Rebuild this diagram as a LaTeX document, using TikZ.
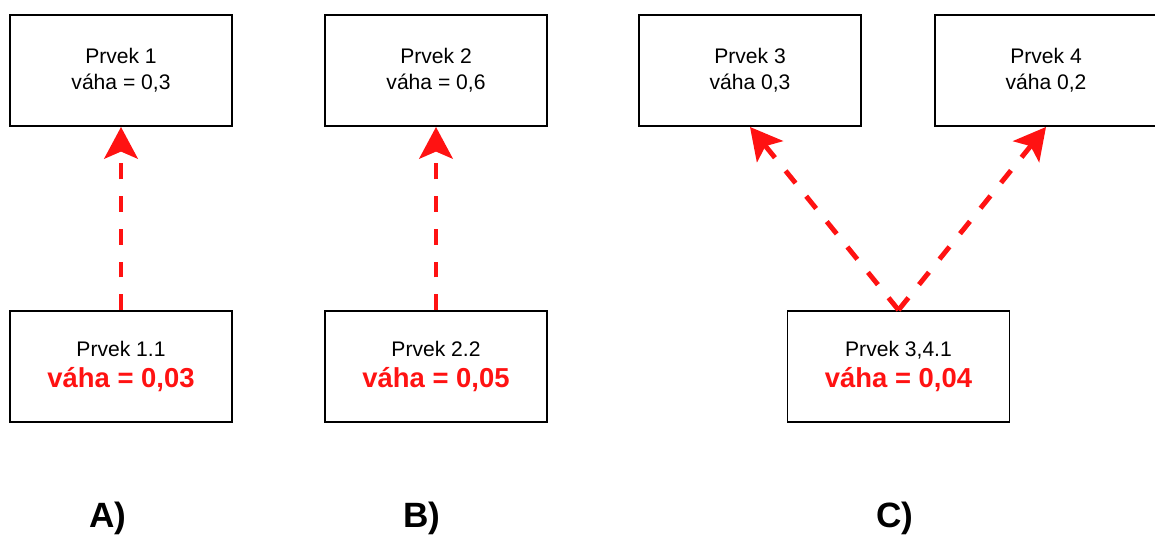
\documentclass[tikz,border=0pt]{standalone}
\usepackage{fontspec}
\setmainfont{Liberation Sans}
\usetikzlibrary{arrows.meta, positioning}
\definecolor{hotred}{RGB}{255,18,18}
\newcommand{\wred}[1]{{\fontsize{15.6}{17}\selectfont\bfseries\color{hotred}#1}}

\begin{document}
\begin{tikzpicture}[
    box/.style={rectangle, draw=black, line width=1.1pt, fill=white,
                minimum height=2.22cm, minimum width=4.44cm, align=center,
                font=\fontsize{12}{14.6}\selectfont},
    tag/.style={font=\fontsize{20}{22}\selectfont\bfseries},
    arrow/.style={-{Stealth[length=18pt, width=19pt, inset=4pt]}, line width=2.8pt,
                  hotred, dash pattern=on 9pt off 9.6pt}
]
\useasboundingbox (0,0) rectangle (23.1,-10.74);

% upper row
\node[box] (p1) at (2.42,-1.41) {Prvek 1\\váha = 0,3};
\node[box] (p2) at (8.72,-1.41) {Prvek 2\\váha = 0,6};
\node[box] (p3) at (15.0,-1.41) {Prvek 3\\váha 0,3};
\node[box] (p4) at (20.92,-1.41) {Prvek 4\\váha 0,2};

% lower row
\node[box] (p11) at (2.42,-7.33) {Prvek 1.1\\[3pt]\wred{váha = 0,03}};
\node[box] (p22) at (8.72,-7.33) {Prvek 2.2\\[3pt]\wred{váha = 0,05}};
\node[box] (p341) at (17.97,-7.33) {Prvek 3,4.1\\[3pt]\wred{váha = 0,04}};

\draw[arrow] (p11) -- (p1);
\draw[arrow] (p22) -- (p2);
\draw[arrow] (p341.north) -- (p3.south);
\draw[arrow] (p341.north) -- (p4.south);

% case labels
\node[tag] (la) at (2.16,-10.36) {A)};
\node[tag] (lb) at (8.44,-10.36) {B)};
\node[tag] (lc) at (17.9,-10.36) {C)};

\end{tikzpicture}
\end{document}
